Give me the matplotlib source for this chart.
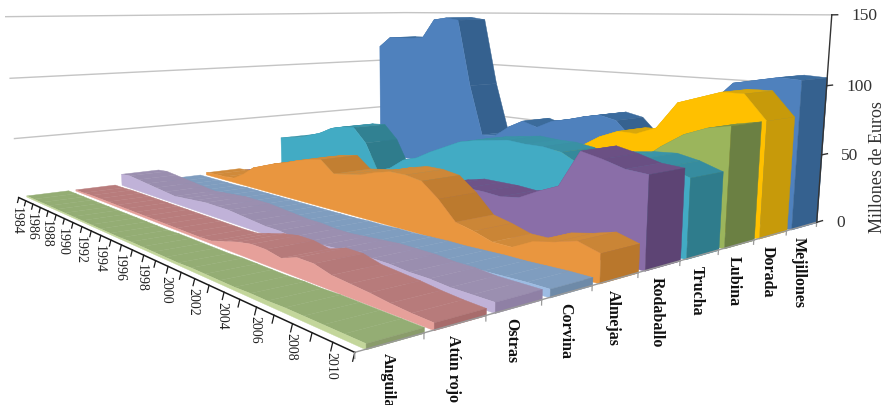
import matplotlib
matplotlib.use("Agg")
import matplotlib.pyplot as plt
import numpy as np
from matplotlib.colors import to_rgb
from mpl_toolkits.mplot3d import Axes3D
from mpl_toolkits.mplot3d.art3d import Poly3DCollection

years = list(range(1984, 2012))
year_labels = list(range(1984, 2011, 2))
value_ticks = [0, 50, 100, 150]
series_names = ["Anguila", "Atún rojo", "Ostras", "Corvina", "Almejas",
                "Rodaballo", "Trucha", "Lubina", "Dorada", "Mejillones"]

anguila = [1, 1, 1, 1, 1, 1, 1, 1, 1, 1, 1, 1, 1.5, 1.5, 1.5, 1.5, 1.5, 2, 2, 2, 2, 2.5, 2.5, 3, 3, 3, 3, 3]
atun_rojo = [1, 1, 1.5, 1.5, 1.5, 1.5, 1.5, 1.5, 1.5, 1.5, 1.5, 1.5, 1.5, 1.5, 2, 5, 8, 10, 10, 8, 12, 12, 9, 8, 7, 5.5, 4.5, 4]
ostras = [10, 11, 10, 9, 8, 7, 6, 7, 8, 9, 9, 9, 8, 7, 6, 6, 5, 5, 6, 7, 8, 8, 8, 7, 7, 6, 6, 6]
corvina = [0.5, 0.5, 0.5, 0.5, 0.5, 1, 1, 1, 1, 1, 1, 1, 1, 1, 1, 1.5, 1.5, 2, 2, 2.5, 3, 3, 3.5, 4, 4, 4.5, 5, 5]
almejas = [2, 3, 3, 4, 10, 18, 22, 26, 29, 33, 36, 38, 29, 31, 33, 37, 40, 40, 38, 28, 15, 12, 8, 8, 15, 18, 22, 18]
rodaballo = [0, 0, 0, 0, 1, 2, 3, 5, 7, 9, 11, 13, 14, 15, 16, 21, 25, 28, 28, 28, 27, 29, 36, 42, 67, 64, 60, 59]
trucha = [28, 30, 32, 36, 40, 46, 49, 50, 38, 15, 20, 29, 33, 40, 46, 52, 55, 57, 59, 58, 58, 56, 49, 57, 59, 60, 57, 52]
lubina = [0, 0, 0, 0, 0, 0, 0, 0.5, 1, 2, 3, 4, 6, 8, 11, 14, 18, 22, 26, 30, 33, 36, 42, 50, 62, 72, 78, 81]
dorada = [0, 0, 0, 0, 0, 0, 0, 1, 2, 4, 8, 12, 18, 24, 30, 34, 38, 42, 47, 56, 62, 62, 68, 88, 93, 98, 98, 81]
mejillones = [115, 125, 125, 125, 126, 144, 146, 144, 82, 36, 37, 47, 54, 50, 57, 60, 64, 67, 64, 50, 53, 61, 65, 85, 101, 104, 107, 106]
all_values = [anguila, atun_rojo, ostras, corvina, almejas, rodaballo, trucha, lubina, dorada, mejillones]

# front, top and end colours of each band
front_colors = ["#c3d69b", "#e6a09a", "#c0b2d8", "#9dbce3", "#e9963f",
                "#8a6ea8", "#42abc4", "#9bb55c", "#ffc000", "#4f81bd"]
top_colors = ["#94ad74", "#b87c7c", "#9b8fb0", "#7f9dbf", "#d08a3a",
              "#6e5388", "#3a94a8", "#7c9448", "#d9a70a", "#3d6ea0"]
end_colors = ["#8a9c6b", "#a86c6c", "#8f80a5", "#6e8aa8", "#b9772c",
              "#5d4474", "#2f7c8c", "#6b8043", "#c79a0a", "#35618f"]

# camera calibration: (year, series, value) -> pixel
calib = [
    (1984, 0.15, 0, 25, 199), (1984, 1, 0, 70, 193), (1984, 2.15, 0, 122, 187),
    (1984, 4.15, 0, 207, 178),
    (1990, 0, 0, 65, 220), (1996, 0, 0, 120, 245),
    (2000, 0, 0, 168, 267), (2004, 0, 0, 223, 293), (2008, 0, 0, 292, 324),
    (2011, 0, 0, 355, 351),
    (2011, 2, 0, 487, 317), (2011, 4, 0, 592, 285), (2011, 6, 0, 680, 263),
    (2011, 8, 0, 753, 242), (2011, 10, 0, 817, 223),
    (2011, 10, 50, 822, 155), (2011, 10, 100, 827, 88), (2011, 10, 150, 832, 17),
    (1984, 10, 0, 405, 150), (1984, 10, 50, 405, 102), (1984, 10, 100, 405, 60),
    (1984, 10, 150, 405, 15),
    (1984, 0, 50, 14, 139), (1984, 0, 100, 10, 78), (1984, 0, 150, 6, 17),
]


def fit_camera(points):
    rows = []
    rhs = []
    for yr, s, z, px, py in points:
        a = [(yr - 1984) / 27, s / 10, z / 150, 1]
        py = 406 - py
        rows.append(a + [0, 0, 0, 0] + [-px * v for v in a[:3]])
        rows.append([0, 0, 0, 0] + a + [-py * v for v in a[:3]])
        rhs += [px, py]
    h = np.linalg.lstsq(np.array(rows, float), np.array(rhs, float), rcond=None)[0]
    p = np.append(h, 1.0).reshape(3, 4)
    scale = np.array([[1 / 27, 0, 0, -1984 / 27], [0, 0.1, 0, 0],
                      [0, 0, 1 / 150, 0], [0, 0, 0, 1]])
    depth = np.array([[0, 0.01, 0, 0]])
    return np.vstack([p[:2], depth + p[2] * 0.001, p[2]]) @ scale


M = fit_camera(calib)


def project(yr, s, z):
    v = M @ np.array([yr, s, z, 1.0])
    return v[0] / v[3], v[1] / v[3]


def blend(c1, c2, t):
    a = np.array(to_rgb(c1))
    b = np.array(to_rgb(c2))
    return tuple(a + (b - a) * t)


fig = plt.figure(figsize=(8.85, 4.06), dpi=100)
ax = fig.add_axes([0, 0, 1, 1], projection="3d", computed_zorder=False)
ax.set_proj_type("ortho")  # keeps lines from being clipped to the unit cube
ax.get_proj = lambda: M
ax.apply_aspect = lambda position=None: None
ax.set_axis_off()
ax.viewLim.intervalx = (0, 885)
ax.viewLim.intervaly = (0, 406)
plt.rcParams["font.family"] = ["Liberation Serif", "DejaVu Serif"]

for z in value_ticks[1:]:
    ax.plot([1984, 1984, 2011], [0, 10, 10], [z, z, z], color="#c4c4c4", lw=1, zorder=1)

order = 10


def add_face(verts, color):
    global order
    order += 1
    face = Poly3DCollection([verts], facecolor=color, edgecolor=color, linewidth=0.3, zorder=order)
    ax.add_collection3d(face, autolim=False)


# back band first so the nearer ones cover it
for i in range(len(series_names) - 1, -1, -1):
    vals = all_values[i]
    front = i + 0.15
    back = i + 1.0
    for k in range(len(years) - 1):
        y0, y1 = years[k], years[k + 1]
        v0, v1 = vals[k], vals[k + 1]
        slope = min(max(v0 - v1, 0) / 15, 1)
        add_face([(y0, front, v0), (y1, front, v1), (y1, back, v1), (y0, back, v0)],
                 blend(top_colors[i], end_colors[i], slope))
    outline = [(yr, front, v) for yr, v in zip(years, vals)]
    add_face([(years[0], front, 0)] + outline + [(years[-1], front, 0)], front_colors[i])
    add_face([(2011, front, 0), (2011, back, 0), (2011, back, vals[-1]), (2011, front, vals[-1])],
             end_colors[i])

# axes drawn over the bands
ax.plot([1984, 2011], [0, 0], [0, 0], color="#1a1a1a", lw=1.1, zorder=2000)
ax.plot([2011, 2011], [0, 10], [0, 0], color="#9a9a9a", lw=1, zorder=2000)
ax.plot([2011, 2011], [10, 10], [0, 150], color="#333333", lw=1, zorder=2000)

for yr in years:
    ax.plot([yr, yr], [0, -0.03], [0, -4], color="#1a1a1a", lw=0.9, zorder=2000)
for s in range(len(series_names) + 1):
    ax.plot([2011, 2011], [s, s], [0, -3], color="#9a9a9a", lw=0.9, zorder=2000)
for z in value_ticks:
    ax.plot([2011, 2011], [10, 10.2], [z, z], color="#333333", lw=1, zorder=2000)

for yr in year_labels:
    ax.annotate(str(yr), project(yr, 0, 0), xytext=(-1.5, -6), textcoords="offset points",
                rotation=270, ha="center", va="top", fontsize=10, color="#222222",
                zorder=2001)
for i, name in enumerate(series_names):
    ax.annotate(name, project(2011, i + 0.5, 0), xytext=(-2, -7), textcoords="offset points",
                rotation=270, ha="center", va="top", fontsize=11.5, fontweight="bold",
                color="#111111", zorder=2001)
for z in value_ticks:
    ax.annotate(str(z), project(2011, 10, z), xytext=(14, 0), textcoords="offset points",
                ha="left", va="center", fontsize=12.5, color="#333333", zorder=2001)
ax.annotate("Millones de Euros", (878, 406 - 167), rotation=90, ha="center", va="center",
            fontsize=13, color="#333333", zorder=2001)

fig.savefig("out.png", dpi=100)
